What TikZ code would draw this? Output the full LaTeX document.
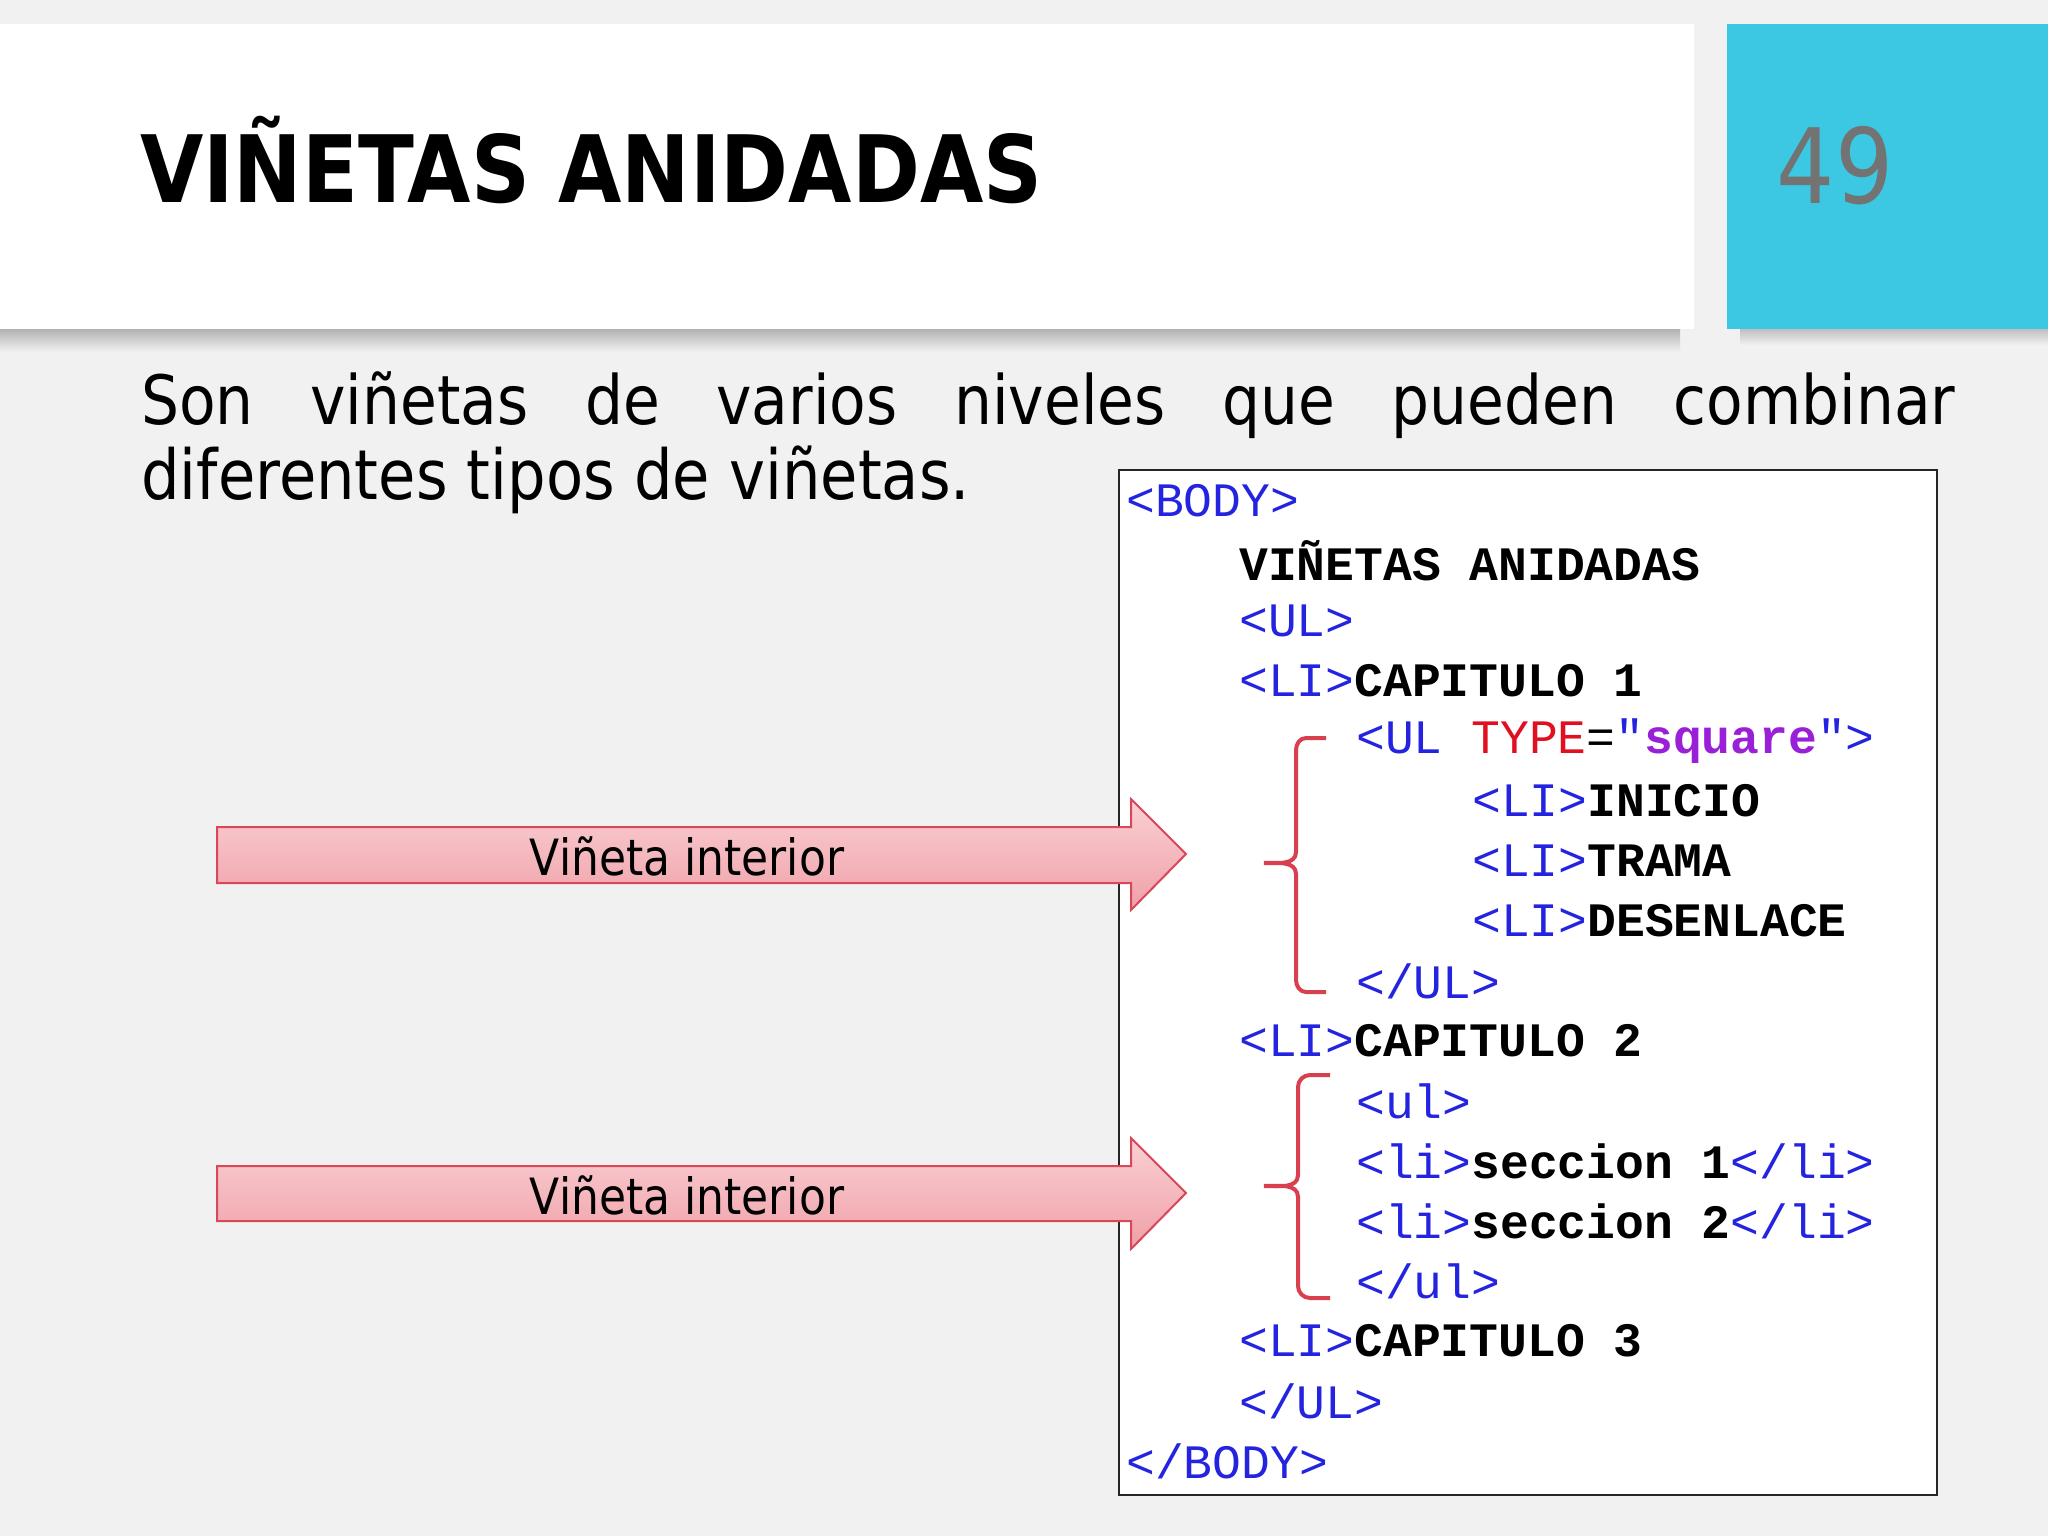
\documentclass[tikz,border=0pt]{standalone}
\usepackage{fontspec}
\setmainfont{DejaVu Sans}[FakeStretch=0.88]
\setmonofont{Liberation Mono}
\usetikzlibrary{shadows}
\definecolor{bg}{HTML}{F1F1F1}
\definecolor{cyanbox}{HTML}{3CC8E2}
\definecolor{tagblue}{HTML}{2424E0}
\definecolor{attrred}{HTML}{E01020}
\definecolor{valpurple}{HTML}{9A20D8}
\definecolor{bracered}{HTML}{D84050}
\definecolor{arrowedge}{HTML}{D84858}
\definecolor{arrowtop}{HTML}{F9D0D4}
\definecolor{arrowbot}{HTML}{F0A0A8}
\tikzset{
  codeline/.style={anchor=west,inner sep=0pt,font=\ttfamily\fontsize{48}{50}\selectfont},
  bracestyle/.style={draw=bracered,line width=4pt},
  arrowstyle/.style={draw=arrowedge,line width=2pt,top color=arrowtop,bottom color=arrowbot},
  arrowtext/.style={font=\fontsize{50}{56}\selectfont,inner sep=0pt}
}
\newcommand{\tg}[1]{\textcolor{tagblue}{#1}}
\newcommand{\bt}[1]{{\bfseries #1}}
\begin{document}
\begin{tikzpicture}[x=1pt,y=-1pt]
\useasboundingbox (0,0) rectangle (2048,1536);
\fill[bg] (0,0) rectangle (2048,1536);
% title band with soft shadow
\fill[top color=black!30,bottom color=bg] (0,329) rectangle (1680,352);
\fill[top color=black!25,bottom color=bg] (1740,329) rectangle (2048,345);
\fill[white] (0,24) rectangle (1694,329);
\fill[cyanbox] (1727,24) rectangle (2048,329);
\node[anchor=west,inner sep=0pt,font=\bfseries\fontsize{93}{100}\selectfont] (title) at (140,160) {VIÑETAS ANIDADAS};
\node[inner sep=0pt,text=black!55,font=\fontsize{104}{110}\selectfont] (num) at (1835,166) {49};
% body text
\node[anchor=base west,inner sep=0pt,font=\fontsize{68}{76}\selectfont] (l1) at (141,424) {\makebox[1814pt][s]{Son viñetas de varios niveles que pueden combinar}};
\node[anchor=base west,inner sep=0pt,font=\fontsize{69}{76}\selectfont] (l2) at (141,499) {diferentes tipos de viñetas.};
% code box
\draw[fill=white,line width=2.5pt,draw=black!85] (1119,470) rectangle (1937,1495);
\node[codeline] (c1) at (1126,501) {\tg{<BODY>}};
\node[codeline] (c2) at (1239,561) {\bt{VIÑETAS ANIDADAS}};
\node[codeline] (c3) at (1239,621) {\tg{<UL>}};
\node[codeline] (c4) at (1239,681) {\tg{<LI>}\bt{CAPITULO 1}};
\node[codeline] (c5) at (1356,741) {\tg{<UL }\textcolor{attrred}{TYPE}=\tg{"}\textcolor{valpurple}{\bfseries square}\tg{">}};
\node[codeline] (c6) at (1472,801) {\tg{<LI>}\bt{INICIO}};
\node[codeline] (c7) at (1472,861) {\tg{<LI>}\bt{TRAMA}};
\node[codeline] (c8) at (1472,921) {\tg{<LI>}\bt{DESENLACE}};
\node[codeline] (c9) at (1356,981) {\tg{</UL>}};
\node[codeline] (c10) at (1239,1041) {\tg{<LI>}\bt{CAPITULO 2}};
\node[codeline] (c11) at (1356,1101) {\tg{<ul>}};
\node[codeline] (c12) at (1356,1161) {\tg{<li>}\bt{seccion 1}\tg{</li>}};
\node[codeline] (c13) at (1356,1221) {\tg{<li>}\bt{seccion 2}\tg{</li>}};
\node[codeline] (c14) at (1356,1281) {\tg{</ul>}};
\node[codeline] (c15) at (1239,1341) {\tg{<LI>}\bt{CAPITULO 3}};
\node[codeline] (c16) at (1239,1401) {\tg{</UL>}};
\node[codeline] (c17) at (1126,1461) {\tg{</BODY>}};
% braces
\draw[bracestyle] (1326,738) -- (1306,738) to[out=180,in=90] (1296,750) -- (1296,852) to[out=-90,in=0] (1264,863) to[out=0,in=90] (1296,874) -- (1296,980) to[out=-90,in=180] (1306,992) -- (1326,992);
\draw[bracestyle] (1330,1075) -- (1310,1075) to[out=180,in=90] (1298,1087) -- (1298,1175) to[out=-90,in=0] (1264,1186) to[out=0,in=90] (1298,1197) -- (1298,1286) to[out=-90,in=180] (1310,1298) -- (1330,1298);
% arrows
\draw[arrowstyle] (217,827) -- (1131,827) -- (1131,799) -- (1186,854) -- (1131,910) -- (1131,883) -- (217,883) -- cycle;
\node[arrowtext] (a1) at (687,856) {Viñeta interior};
\draw[arrowstyle] (217,1166) -- (1131,1166) -- (1131,1138) -- (1186,1193) -- (1131,1249) -- (1131,1221) -- (217,1221) -- cycle;
\node[arrowtext] (a2) at (687,1195) {Viñeta interior};
\end{tikzpicture}
\end{document}
